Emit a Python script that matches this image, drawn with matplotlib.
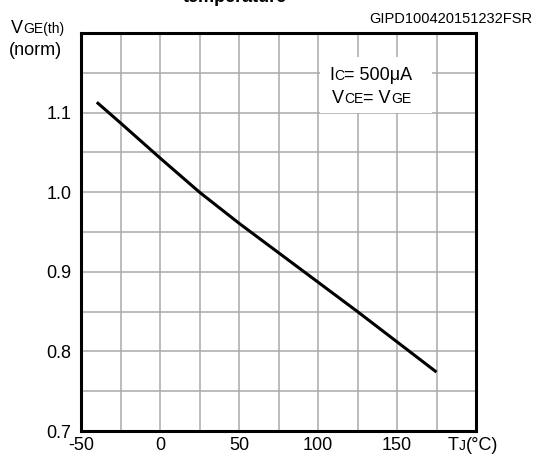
import matplotlib
matplotlib.use("Agg")
import matplotlib.pyplot as plt
from matplotlib.patches import Rectangle

plt.rcParams['font.family'] = ['Liberation Sans', 'DejaVu Sans']

# curve
temp_c = [-40, -25, 0, 25, 50, 75, 100, 125, 150, 175]
vge_norm = [1.113, 1.087, 1.043, 1.000, 0.961, 0.924, 0.887, 0.850, 0.812, 0.774]

x_ticks = [-50, 0, 50, 100, 150]
y_ticks = [0.7, 0.8, 0.9, 1.0, 1.1]

W, H = 539, 457
fig = plt.figure(figsize=(W / 100, H / 100), dpi=100)
ax = fig.add_axes([81 / W, 1 - 431 / H, 395 / W, 398 / H])
renderer = fig.canvas.get_renderer()


def rich_text(x, y, parts, **kw):
    # parts drawn left to right on one baseline, x/y in pixels from top-left
    for s, size in parts:
        t = fig.text(x / W, 1 - y / H, s, fontsize=size, va='baseline',
                     ha='left', **kw)
        x += t.get_window_extent(renderer).width


ax.plot(temp_c, vge_norm, color='black', lw=2.2, zorder=3,
        solid_joinstyle='round', solid_capstyle='butt')

ax.set_xlim(-50, 200)
ax.set_ylim(0.7, 1.2)
x_grid = list(range(-50, 201, 25))
y_grid = [0.7 + 0.05 * i for i in range(11)]
ax.set_xticks(x_grid)
ax.set_yticks(y_grid)
ax.set_xticklabels([str(v) if v in x_ticks else '' for v in x_grid])
ax.set_yticklabels(['%.1f' % v if any(abs(v - t) < 1e-6 for t in y_ticks) else ''
                    for v in y_grid])
ax.tick_params(length=0, labelsize=13, colors='black')
ax.tick_params(axis='y', pad=7)
ax.tick_params(axis='x', pad=4)
ax.grid(True, color='#aaaaaa', lw=1.1)
ax.set_axisbelow(True)
for sp in ax.spines.values():
    sp.set_linewidth(2.2)

# white box behind the conditions text
fig.add_artist(Rectangle((320 / W, 1 - 113 / H), 112 / W, 56 / H,
                         transform=fig.transFigure, fc='white', ec='none'))
rich_text(329, 80, [("I", 13), ("C", 10), ("= 500\u03bcA", 13)])
rich_text(332, 103, [("V", 13), ("CE", 10), ("= V", 13), ("GE", 10)])

# axis labels
rich_text(11, 33, [("V", 13), ("GE(th)", 10)])
rich_text(9, 55, [("(norm)", 13)])
rich_text(448, 450, [("T", 13), ("J", 10), ("(\u00b0C)", 13)])

fig.text(532 / W, 1 - 23 / H, "GIPD100420151232FSR", fontsize=10.5,
         ha='right', va='baseline')
# title is cut off at the top edge in the reference as well
fig.text(235 / W, 1 - 2 / H, "temperature", fontsize=13, fontweight='bold',
         ha='center', va='baseline')

fig.savefig("out.png", dpi=100)
